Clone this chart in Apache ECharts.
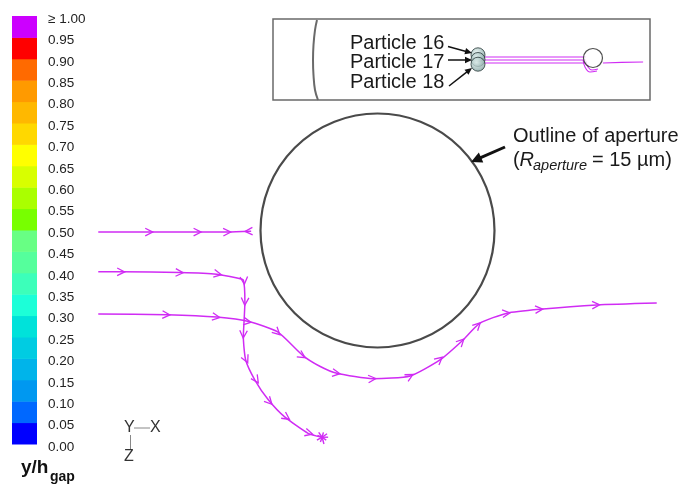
<!DOCTYPE html>
<html>
<head>
<meta charset="utf-8">
<title>Particle trajectories near the aperture</title>
<script src="https://cdn.jsdelivr.net/npm/echarts@6/dist/echarts.min.js"></script>
<style>
  html, body { margin: 0; padding: 0; background: #ffffff; }
  #chart { width: 685px; height: 491px; }
</style>
</head>
<body>
<div id="chart"></div>
<script>
// ---- colour scale (y / h_gap) ----
const bandLower = [0.00, 0.05, 0.10, 0.15, 0.20, 0.25, 0.30, 0.35, 0.40, 0.45,
                   0.50, 0.55, 0.60, 0.65, 0.70, 0.75, 0.80, 0.85, 0.90, 0.95];
const bandColors = ['#0000ff', '#0068ff', '#0098f0', '#00b4ea', '#00cce2', '#00e2da',
                    '#1cffd8', '#3cffba', '#55ff9c', '#68ff84', '#78ff00', '#aaff00',
                    '#d8ff00', '#ffff00', '#ffd800', '#ffb800', '#ff9a00', '#ff6a00',
                    '#ff0000', '#cc00ff'];
const tickLabels = ['0.00', '0.05', '0.10', '0.15', '0.20', '0.25', '0.30', '0.35', '0.40', '0.45',
                    '0.50', '0.55', '0.60', '0.65', '0.70', '0.75', '0.80', '0.85', '0.90', '0.95', '≥ 1.00'];

// ---- aperture (µm, centred at origin) ----
const R_APERTURE = 15;
const apertureCentre = [[0, 0]];

// ---- trajectories in the plane (µm) ----
const pathTop = [[-35.8, -0.2], [-29.2, -0.2], [-23.0, -0.2], [-19.2, -0.2], [-16.2, -0.1]];
const arrowsTop = [[-29.2, -0.2], [-23.0, -0.2], [-19.2, -0.2]];
const stopTop = [[-16.6, -0.1]];

const pathMid = [[-35.8, -5.3], [-32.8, -5.3], [-25.3, -5.4], [-20.6, -5.6], [-18.0, -6.1],
                 [-17.2, -6.35], [-17.0, -9.2], [-17.1, -11.5], [-17.2, -13.6], [-16.9, -16.6],
                 [-15.7, -19.2], [-14.0, -21.7], [-11.9, -23.9], [-8.9, -26.0], [-7.1, -26.5]];
const arrowsMid = [[-32.8, -5.3], [-25.3, -5.4], [-20.4, -5.6], [-17.1, -6.5], [-17.0, -9.2],
                   [-17.2, -13.4], [-16.8, -16.6], [-15.5, -19.2], [-13.8, -22.0], [-11.6, -24.0],
                   [-8.7, -26.0]];
const burstMid = [[-7.1, -26.5]];

const pathLow = [[-35.8, -10.7], [-27.0, -10.8], [-20.6, -11.1], [-16.4, -11.7], [-12.8, -13.0],
                 [-9.6, -16.0], [-7.4, -17.4], [-5.2, -18.3], [-0.6, -19.0], [4.2, -18.65],
                 [8.0, -16.6], [10.8, -14.2], [13.1, -11.9], [16.6, -10.6], [20.8, -10.1],
                 [28.1, -9.55], [35.8, -9.3]];
const arrowsLow = [[-27.0, -10.8], [-20.6, -11.1], [-16.6, -11.7], [-12.8, -13.1], [-9.6, -16.1],
                   [-5.2, -18.3], [-0.6, -19.0], [4.2, -18.65], [8.0, -16.5], [10.8, -14.2],
                   [12.9, -12.1], [16.6, -10.6], [20.8, -10.1], [28.1, -9.55]];

// ---- side-view inset (schematic units) ----
const insetWall = [[10.85, 19.75], [10.36, 17.28], [9.99, 13.58], [9.87, 9.88],
                   [9.99, 6.17], [10.36, 2.47], [11.10, 0]];
const insetTrack16 = [[52.0, 10.62], [77.2, 10.62]];
const insetTrack17 = [[52.0, 9.88], [77.2, 9.88]];
const insetTrack18 = [[52.0, 9.14], [77.2, 9.14]];
const insetHookA = [[76.5, 9.88], [76.96, 8.15], [78.19, 6.91], [79.92, 7.16]];
const insetHookB = [[77.2, 9.63], [77.7, 8.15], [78.69, 7.41], [80.17, 7.65]];
const insetExit = [[81.4, 9.14], [86.0, 9.3], [91.3, 9.38]];
const insetObstacle = [[78.93, 10.37]];
const insetParticles = [[50.57, 11.16], [50.57, 10.0], [50.57, 8.84]];

const FONT = '"Liberation Sans", Arial, sans-serif';
const MAGENTA = '#d02cf4';

// open chevron drawn along a path, pointing along the local direction of travel
function chevronSeries(track, marks, reverse) {
  return {
    type: 'custom',
    xAxisIndex: 0, yAxisIndex: 0,
    z: 4,
    silent: true,
    data: marks,
    renderItem(params, api) {
      const p = api.coord([api.value(0), api.value(1)]);
      const pts = track.map(q => api.coord(q));
      let best = Infinity, dx = 1, dy = 0;
      for (let i = 0; i < pts.length - 1; i++) {
        const a = pts[i], b = pts[i + 1];
        const vx = b[0] - a[0], vy = b[1] - a[1];
        const L2 = vx * vx + vy * vy;
        if (!L2) continue;
        let t = ((p[0] - a[0]) * vx + (p[1] - a[1]) * vy) / L2;
        t = Math.max(0, Math.min(1, t));
        const ex = a[0] + t * vx - p[0], ey = a[1] + t * vy - p[1];
        const d = ex * ex + ey * ey;
        if (d <= best + 0.01) {
          best = Math.min(best, d);
          const L = Math.sqrt(L2);
          dx = vx / L; dy = vy / L;
        }
      }
      if (reverse) { dx = -dx; dy = -dy; }
      const nx = -dy, ny = dx;
      const tip = [p[0] + dx * 3, p[1] + dy * 3];
      const back = [p[0] - dx * 4.5, p[1] - dy * 4.5];
      return {
        type: 'polyline',
        shape: { points: [[back[0] + nx * 3.8, back[1] + ny * 3.8], tip, [back[0] - nx * 3.8, back[1] - ny * 3.8]] },
        style: { stroke: MAGENTA, lineWidth: 1.3, fill: null }
      };
    }
  };
}

function trackSeries(data, xi, width) {
  return {
    type: 'line',
    xAxisIndex: xi, yAxisIndex: xi,
    data: data,
    showSymbol: false,
    symbol: 'none',
    smooth: xi === 0 ? 0.2 : false,
    silent: true,
    z: 3,
    lineStyle: { color: MAGENTA, width: width }
  };
}

// arrow built from a line and a filled head
function arrowGraphic(x1, y1, x2, y2, w, head, half) {
  const L = Math.hypot(x2 - x1, y2 - y1);
  const dx = (x2 - x1) / L, dy = (y2 - y1) / L;
  const bx = x2 - dx * head, by = y2 - dy * head;
  return [
    { type: 'line', z: 100, shape: { x1, y1, x2: bx + dx, y2: by + dy }, style: { stroke: '#111', lineWidth: w } },
    { type: 'polygon', z: 100, shape: { points: [[x2, y2], [bx - dy * half, by + dx * half], [bx + dy * half, by - dx * half]] },
      style: { fill: '#111' } }
  ];
}

function label(text, x, y, size, extra) {
  return Object.assign({
    type: 'text', z: 100, x: x, y: y,
    style: Object.assign({ text: text, fontSize: size, fontFamily: FONT, fill: '#1a1a1a',
                           align: 'left', verticalAlign: 'middle' }, extra || {})
  });
}

const chart = echarts.init(document.getElementById('chart'), null, { renderer: 'canvas' });

const option = {
  backgroundColor: '#ffffff',
  animation: false,
  grid: [
    { left: 65.5, right: 11.1, top: 12.1, bottom: 26.5, show: false },
    { left: 12, top: 16, width: 25, height: 428, show: false },
    { left: 273, top: 19, width: 377, height: 81, show: true, backgroundColor: '#ffffff',
      borderColor: '#6a6a6a', borderWidth: 1.5, z: 1 }
  ],
  xAxis: [
    { type: 'value', gridIndex: 0, min: -40, max: 38, show: false },
    { type: 'value', gridIndex: 1, min: 0, max: 1, show: false },
    { type: 'value', gridIndex: 2, min: 0, max: 93, show: false }
  ],
  yAxis: [
    { type: 'value', gridIndex: 0, min: -30, max: 28, show: false },
    { type: 'value', gridIndex: 1, min: 0, max: 1, interval: 0.05, position: 'right',
      axisLine: { show: false }, axisTick: { show: false }, splitLine: { show: false },
      axisLabel: {
        margin: 11,
        formatter: v => '{t|' + tickLabels[Math.round(v / 0.05)] + '}',
        rich: { t: { fontSize: 13.5, fontFamily: FONT, color: '#222', padding: [6, 0, 0, 0] } }
      } },
    { type: 'value', gridIndex: 2, min: 0, max: 20, show: false }
  ],
  series: [
    // colour bar
    {
      type: 'custom', xAxisIndex: 1, yAxisIndex: 1, silent: true,
      data: bandLower.map((lo, i) => [lo, i]),
      renderItem(params, api) {
        const lo = api.value(0), i = api.value(1);
        const p0 = api.coord([0, lo]);
        const p1 = api.coord([1, lo + 0.05]);
        return {
          type: 'rect',
          shape: { x: p0[0], y: p1[1], width: p1[0] - p0[0], height: p0[1] - p1[1] + 0.5 },
          style: { fill: bandColors[i] }
        };
      }
    },
    // aperture outline
    {
      type: 'custom', xAxisIndex: 0, yAxisIndex: 0, silent: true, z: 2,
      data: apertureCentre,
      renderItem(params, api) {
        const c = api.coord([api.value(0), api.value(1)]);
        const r = api.size([R_APERTURE, 0])[0];
        return { type: 'circle', shape: { cx: c[0], cy: c[1], r: r },
                 style: { fill: null, stroke: '#4a4a4a', lineWidth: 2.2 } };
      }
    },
    trackSeries(pathTop, 0, 1.5),
    trackSeries(pathMid, 0, 1.5),
    trackSeries(pathLow, 0, 1.5),
    chevronSeries(pathTop, arrowsTop, false),
    chevronSeries(pathTop, stopTop, true),
    chevronSeries(pathMid, arrowsMid, false),
    chevronSeries(pathLow, arrowsLow, false),
    // end of the deflected path
    {
      type: 'custom', xAxisIndex: 0, yAxisIndex: 0, silent: true, z: 4,
      data: burstMid,
      renderItem(params, api) {
        const c = api.coord([api.value(0), api.value(1)]);
        const rays = [[0, 6], [35, 5], [75, 7], [110, 5], [150, 6], [200, 5], [235, 6], [285, 5], [325, 6]];
        return {
          type: 'group',
          children: rays.map(([deg, len]) => {
            const a = deg * Math.PI / 180;
            return { type: 'line', shape: { x1: c[0], y1: c[1], x2: c[0] + Math.cos(a) * len, y2: c[1] + Math.sin(a) * len },
                     style: { stroke: MAGENTA, lineWidth: 1.4 } };
          })
        };
      }
    },
    // inset: side view
    { type: 'line', xAxisIndex: 2, yAxisIndex: 2, data: insetWall, showSymbol: false, symbol: 'none',
      smooth: 0.4, silent: true, z: 3, lineStyle: { color: '#6a6a6a', width: 2 } },
    trackSeries(insetTrack16, 2, 1.1),
    trackSeries(insetTrack17, 2, 1.1),
    trackSeries(insetTrack18, 2, 1.1),
    trackSeries(insetExit, 2, 1.1),
    Object.assign(trackSeries(insetHookA, 2, 1.1), { smooth: 0.4 }),
    Object.assign(trackSeries(insetHookB, 2, 1.1), { smooth: 0.4 }),
    {
      type: 'scatter', xAxisIndex: 2, yAxisIndex: 2, data: insetObstacle, symbol: 'circle',
      symbolSize: 19, silent: true, z: 5,
      itemStyle: { color: '#ffffff', borderColor: '#222', borderWidth: 1.2 }
    },
    {
      type: 'scatter', xAxisIndex: 2, yAxisIndex: 2, data: insetParticles, symbol: 'circle',
      symbolSize: 14, silent: true, z: 5,
      itemStyle: {
        color: new echarts.graphic.RadialGradient(0.4, 0.35, 0.7, [
          { offset: 0, color: '#e2f0ee' }, { offset: 1, color: '#7c9e9c' }
        ]),
        borderColor: '#2a3a3a', borderWidth: 1
      }
    }
  ],
  graphic: [
    // inset labels
    label('Particle 16', 350, 43, 20),
    label('Particle 17', 350, 62.5, 20),
    label('Particle 18', 350, 82, 20),
    ...arrowGraphic(448, 46.5, 472, 53, 1.5, 7, 3.2),
    ...arrowGraphic(448, 60, 472, 60, 1.5, 7, 3.2),
    ...arrowGraphic(449, 86, 472, 68, 1.5, 7, 3.2),
    // aperture annotation
    label('Outline of aperture', 513, 136, 20),
    label('(', 513, 160, 20),
    label('R', 519.5, 160, 20, { fontStyle: 'italic' }),
    label('aperture', 533, 166, 14.5, { fontStyle: 'italic' }),
    label('= 15 µm)', 592, 160, 20),
    ...arrowGraphic(505, 147, 471, 162, 3, 11, 5.5),
    // axis triad
    label('Y', 124, 428, 16, { fill: '#333' }),
    label('X', 150, 428, 16, { fill: '#333' }),
    label('Z', 124, 456.5, 16, { fill: '#333' }),
    { type: 'line', z: 100, shape: { x1: 134, y1: 428, x2: 150, y2: 428 }, style: { stroke: '#888', lineWidth: 1 } },
    { type: 'line', z: 100, shape: { x1: 130.5, y1: 435, x2: 130.5, y2: 449 }, style: { stroke: '#888', lineWidth: 1 } },
    // colour bar title
    label('y/h', 21, 468, 19, { fontWeight: 'bold', fill: '#111' }),
    label('gap', 50, 477.5, 14, { fontWeight: 'bold', fill: '#111' })
  ]
};

chart.setOption(option);
</script>
</body>
</html>
